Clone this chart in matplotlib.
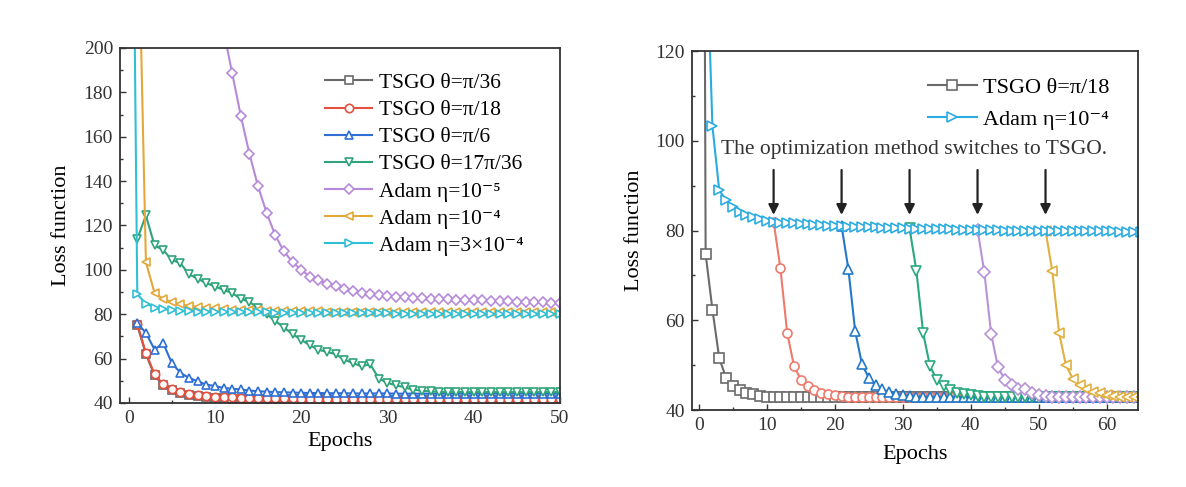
import matplotlib
matplotlib.use("Agg")
import matplotlib.pyplot as plt
from matplotlib.ticker import MultipleLocator

plt.rcParams['font.family'] = ['Liberation Serif', 'DejaVu Serif']

# ---------------- left panel data (epochs) ----------------
ep_l = list(range(1, 51))
gray_l = [75.0, 62.0, 52.4, 47.9, 45.7, 44.6, 43.8, 43.2, 42.7, 42.4,
          42.2, 42.0, 41.9, 41.8, 41.8, 41.7, 41.7, 41.7, 41.6, 41.6,
          41.6, 41.6, 41.6, 41.5, 41.5, 41.5, 41.5, 41.5, 41.5, 41.5,
          41.5, 41.5, 41.5, 41.5, 41.5, 41.5, 41.5, 41.5, 41.5, 41.5,
          41.5, 41.5, 41.5, 41.5, 41.5, 41.5, 41.5, 41.5, 41.5, 41.5]
red_l = [75.5, 62.6, 52.9, 48.4, 46.1, 45.0, 44.2, 43.6, 43.1, 42.8,
         42.6, 42.5, 42.4, 42.3, 42.2, 42.2, 42.1, 42.1, 42.1, 42.0,
         42.0, 42.0, 42.0, 42.0, 42.0, 42.0, 42.0, 42.0, 42.0, 42.0,
         42.0, 42.0, 42.0, 42.0, 42.0, 42.0, 42.0, 42.0, 42.0, 42.0,
         42.0, 42.0, 42.0, 42.0, 42.0, 42.0, 42.0, 42.0, 42.0, 42.0]
blue_l = [76.0, 71.6, 64.1, 67.0, 58.0, 53.6, 51.3, 49.8, 48.3, 47.6,
          46.8, 46.4, 46.1, 45.6, 45.3, 45.1, 44.9, 44.8, 44.7, 44.6,
          44.5, 44.5, 44.4, 44.4, 44.4, 44.3, 44.3, 44.3, 44.3, 44.3,
          44.2, 44.2, 44.2, 44.2, 44.2, 44.2, 44.2, 44.2, 44.2, 44.2,
          44.2, 44.2, 44.2, 44.2, 44.2, 44.2, 44.2, 44.2, 44.2, 44.2]
green_l = [114.0, 124.5, 111.0, 109.0, 104.5, 103.0, 98.0, 96.0, 94.0, 92.5,
           91.0, 89.5, 87.0, 85.5, 83.0, 80.0, 77.0, 74.0, 71.0, 68.5,
           66.0, 64.0, 63.0, 62.0, 59.5, 58.0, 56.5, 57.5, 51.0, 49.0,
           48.0, 47.0, 46.0, 45.5, 45.2, 45.0, 45.0, 45.0, 44.9, 44.9,
           44.9, 44.9, 44.9, 44.9, 44.9, 44.9, 44.9, 44.9, 44.9, 44.9]
ep_purple_l = list(range(10, 51))
purple_l = [232.0, 208.0, 188.6, 169.4, 152.3, 137.6, 125.6, 115.5, 108.3, 103.5,
            100.0, 97.0, 95.3, 93.8, 92.6, 91.4, 90.3, 89.6, 89.0, 88.5,
            88.0, 87.8, 87.6, 87.4, 87.2, 87.0, 86.9, 86.7, 86.6, 86.4,
            86.3, 86.2, 86.0, 85.9, 85.8, 85.7, 85.5, 85.4, 85.3, 85.1,
            85.0]
orange_l = [280.0, 103.5, 89.6, 87.0, 85.5, 84.5, 83.8, 83.3, 82.9, 82.6,
            82.3, 82.1, 81.9, 81.8, 81.7, 81.6, 81.5, 81.4, 81.4, 81.3,
            81.3, 81.3, 81.2, 81.2, 81.2, 81.2, 81.1, 81.1, 81.1, 81.1,
            81.1, 81.1, 81.0, 81.0, 81.0, 81.0, 81.0, 81.0, 81.0, 81.0,
            81.0, 81.0, 81.0, 81.0, 81.0, 81.0, 81.0, 81.0, 81.0, 81.0]
ep_cyan_l = list(range(0, 51))
cyan_l = [480.0, 89.0, 84.8, 83.0, 82.3, 81.9, 81.6, 81.4, 81.2, 81.1,
          81.0, 81.0, 80.9, 80.9, 80.8, 80.8, 80.8, 80.7, 80.7, 80.7,
          80.6, 80.6, 80.6, 80.5, 80.5, 80.5, 80.5, 80.4, 80.4, 80.4,
          80.4, 80.3, 80.3, 80.3, 80.3, 80.2, 80.2, 80.2, 80.2, 80.2,
          80.1, 80.1, 80.1, 80.1, 80.1, 80.0, 80.0, 80.0, 80.0, 80.0,
          80.0]

# ---------------- right panel data ----------------
ep_r = list(range(0, 66))
black_r = [520.0, 74.8, 62.4, 51.6, 47.2, 45.3, 44.4, 43.9, 43.5, 43.1,
           42.9, 42.9, 42.9, 42.9, 42.9, 42.9, 42.9, 42.9, 42.9, 42.9,
           42.9, 42.9, 42.9, 42.9, 42.9, 42.9, 42.9, 42.9, 42.9, 42.9,
           42.9, 42.9, 42.9, 42.9, 42.9, 42.9, 42.9, 42.9, 42.9, 42.9,
           42.9, 42.9, 42.9, 42.9, 42.9, 42.9, 42.9, 42.9, 42.9, 42.9,
           42.9, 42.9, 42.9, 42.9, 42.9, 42.9, 42.9, 42.9, 42.9, 42.9,
           42.9, 42.9, 42.9, 42.9, 42.9, 42.9]
cyan_r = [520.0, 150.0, 103.3, 89.0, 86.8, 85.3, 84.2, 83.5, 83.0, 82.5,
          82.2, 82.0, 81.8, 81.7, 81.6, 81.5, 81.4, 81.3, 81.2, 81.1,
          81.0, 80.95, 80.9, 80.85, 80.8, 80.75, 80.7, 80.65, 80.6, 80.55,
          80.5, 80.45, 80.4, 80.4, 80.35, 80.3, 80.3, 80.25, 80.2, 80.2,
          80.15, 80.1, 80.1, 80.1, 80.05, 80.0, 80.0, 80.0, 79.95, 79.95,
          79.9, 79.9, 79.9, 79.9, 79.85, 79.85, 79.85, 79.8, 79.8, 79.8,
          79.8, 79.8, 79.75, 79.75, 79.75, 79.7]
ep_red_r = list(range(11, 66))
red_r = [82.0, 71.6, 57.2, 49.8, 46.8, 45.3, 44.4, 43.9, 43.5, 43.3,
         43.1, 43.0, 43.0, 42.9, 42.9, 42.9, 42.9, 42.9, 42.9, 42.9,
         42.9, 42.9, 42.9, 42.9, 42.9, 42.9, 42.9, 42.9, 42.9, 42.9,
         42.9, 42.9, 42.9, 42.9, 42.9, 42.9, 42.9, 42.9, 42.9, 42.9,
         42.9, 42.9, 42.9, 42.9, 42.9, 42.9, 42.9, 42.9, 42.9, 42.9,
         42.9, 42.9, 42.9, 42.9, 42.9]
ep_blue_r = list(range(21, 66))
blue_r = [81.0, 71.4, 57.6, 50.2, 47.2, 45.5, 44.6, 44.0, 43.6, 43.3,
          43.1, 43.0, 43.0, 42.9, 42.9, 42.9, 42.9, 42.9, 42.9, 42.9,
          42.9, 42.9, 42.9, 42.9, 42.9, 42.9, 42.9, 42.9, 42.9, 42.9,
          42.9, 42.9, 42.9, 42.9, 42.9, 42.9, 42.9, 42.9, 42.9, 42.9,
          42.9, 42.9, 42.9, 42.9, 42.9]
ep_green_r = list(range(31, 66))
green_r = [80.5, 71.1, 57.2, 49.8, 46.8, 45.3, 44.4, 43.9, 43.5, 43.3,
           43.1, 43.0, 43.0, 42.9, 42.9, 42.9, 42.9, 42.9, 42.9, 42.9,
           42.9, 42.9, 42.9, 42.9, 42.9, 42.9, 42.9, 42.9, 42.9, 42.9,
           42.9, 42.9, 42.9, 42.9, 42.9]
ep_purple_r = list(range(41, 66))
purple_r = [80.2, 70.7, 57.0, 49.6, 46.8, 45.5, 44.7, 44.6, 43.7, 43.3,
            43.1, 43.0, 43.0, 42.9, 42.9, 42.9, 42.9, 42.9, 42.9, 42.9,
            42.9, 42.9, 42.9, 42.9, 42.9]
ep_orange_r = list(range(51, 66))
orange_r = [80.0, 70.9, 57.2, 50.0, 47.0, 45.5, 44.6, 44.0, 43.7, 43.3,
            43.1, 43.0, 43.0, 42.9, 42.9]
arrow_x = [11, 21, 31, 41, 51]

c_gray = '#6a6a6a'
c_red = '#e5503f'
c_blue = '#2e6fd6'
c_green = '#2fa37a'
c_purple = '#b68ad8'
c_orange = '#e4a83a'
c_cyan = '#30c0d6'

fig = plt.figure(figsize=(11.86, 4.87), dpi=100)
ax1 = fig.add_axes([0.1012, 0.1725, 0.371, 0.729])
ax2 = fig.add_axes([0.5835, 0.158, 0.376, 0.737])

def mk(ax, x, y, c, m, lab, ms=6.0, lw=1.5):
    ax.plot(x, y, color=c, marker=m, mfc='white', mec=c, ms=ms, mew=1.2,
            lw=lw, label=lab)

mk(ax1, ep_l, gray_l, c_gray, 's', 'TSGO θ=π/36')
mk(ax1, ep_l, red_l, c_red, 'o', 'TSGO θ=π/18')
mk(ax1, ep_l, blue_l, c_blue, '^', 'TSGO θ=π/6')
mk(ax1, ep_l, green_l, c_green, 'v', 'TSGO θ=17π/36')
mk(ax1, ep_purple_l, purple_l, c_purple, 'D', 'Adam η=10⁻⁵', ms=5.5)
mk(ax1, ep_l, orange_l, c_orange, '<', 'Adam η=10⁻⁴')
mk(ax1, ep_cyan_l, cyan_l, c_cyan, '>', 'Adam η=3×10⁻⁴')

ax1.set_xlim(-1, 50)
ax1.set_ylim(40, 200)
ax1.xaxis.set_major_locator(MultipleLocator(10))
ax1.xaxis.set_minor_locator(MultipleLocator(5))
ax1.yaxis.set_major_locator(MultipleLocator(20))
ax1.yaxis.set_minor_locator(MultipleLocator(10))
ax1.set_xlabel('Epochs', fontsize=16, labelpad=4)
ax1.set_ylabel('Loss function', fontsize=16, labelpad=9)
ax1.legend(loc='upper left', bbox_to_anchor=(0.466, 0.93), frameon=False,
           fontsize=15.5, handlelength=2.2, handletextpad=0.3, labelspacing=0.33,
           borderpad=0, borderaxespad=0)

mk(ax2, ep_r, black_r, c_gray, 's', 'TSGO θ=π/18', ms=6.5)
mk(ax2, ep_red_r, red_r, '#ee7a6c', 'o', None, ms=6.5)
mk(ax2, ep_blue_r, blue_r, '#2478c8', '^', None, ms=6.5)
mk(ax2, ep_green_r, green_r, '#2aa87e', 'v', None, ms=6.5)
mk(ax2, ep_purple_r, purple_r, '#b893d6', 'D', None, ms=6.0)
mk(ax2, ep_orange_r, orange_r, '#e0b040', '<', None, ms=6.5)
mk(ax2, ep_r, cyan_r, '#2aace0', '>', 'Adam η=10⁻⁴', ms=6.5)

for xa in arrow_x:
    ax2.annotate('', xy=(xa, 83.5), xytext=(xa, 93.5),
                 arrowprops=dict(arrowstyle='-|>', color='#222222', lw=1.6,
                                 mutation_scale=15, shrinkA=0, shrinkB=0))
ax2.text(31.6, 98, 'The optimization method switches to TSGO.', fontsize=15.5,
         ha='center', va='center', color='#333333')

ax2.set_xlim(-1, 64.6)
ax2.set_ylim(40, 120)
ax2.xaxis.set_major_locator(MultipleLocator(10))
ax2.xaxis.set_minor_locator(MultipleLocator(5))
ax2.yaxis.set_major_locator(MultipleLocator(20))
ax2.yaxis.set_minor_locator(MultipleLocator(10))
ax2.set_xlabel('Epochs', fontsize=16, labelpad=8)
ax2.set_ylabel('Loss function', fontsize=16, labelpad=8)
ax2.legend(loc='upper left', bbox_to_anchor=(0.529, 0.926), frameon=False,
           fontsize=16, handlelength=2.2, handletextpad=0.3, labelspacing=0.5,
           borderpad=0, borderaxespad=0)

for ax in (ax1, ax2):
    for s in ax.spines.values():
        s.set_linewidth(1.3)
        s.set_color('#333333')
    ax.tick_params(which='both', direction='in', top=False, right=False,
                   colors='#333333', labelsize=14, width=1.0)
    ax.tick_params(which='major', length=4, pad=5)
    ax.tick_params(which='minor', length=2.5)

fig.savefig('out.png', dpi=100)
